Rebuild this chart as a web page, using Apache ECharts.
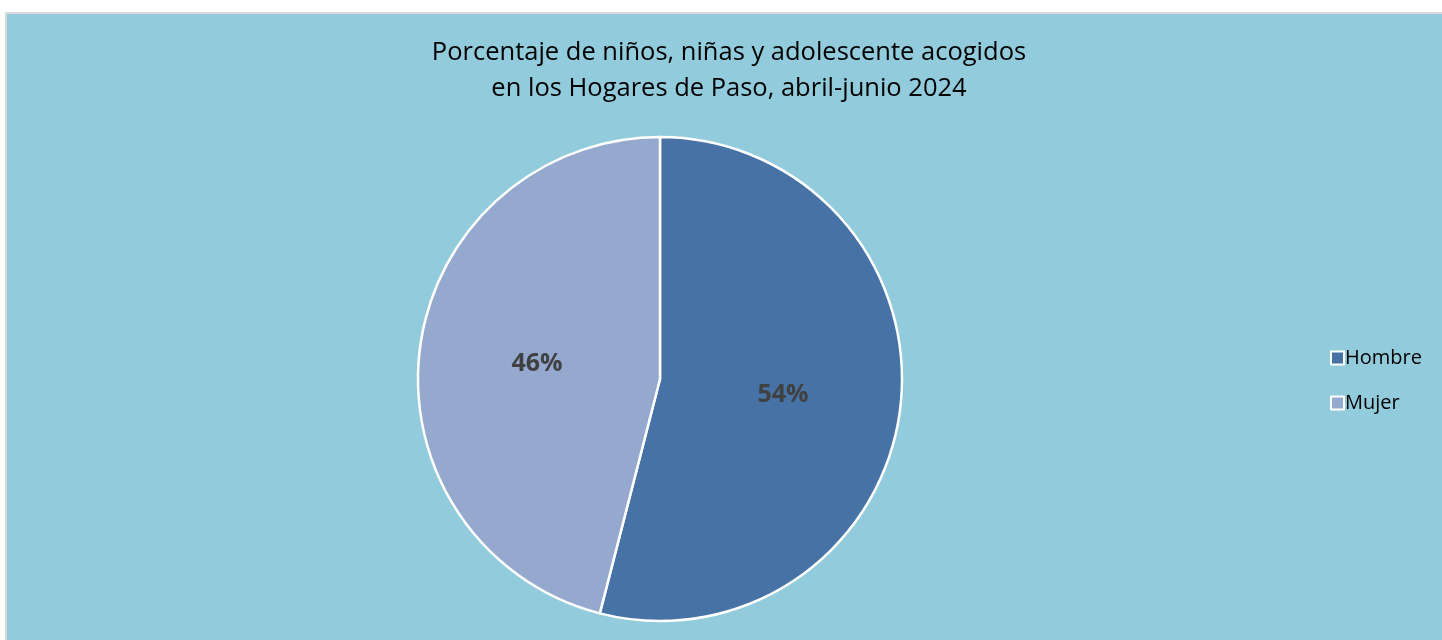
<!DOCTYPE html>
<html>
<head>
<meta charset="utf-8">
<script src="https://cdn.jsdelivr.net/npm/echarts@6/dist/echarts.min.js"></script>
<style>
  html, body { margin: 0; padding: 0; background: #ffffff; }
  #panel {
    position: absolute; left: 5px; top: 12px; width: 1437px; height: 628px;
    background: #92cbdc; border-left: 2px solid #d9d9d9; border-top: 2px solid #d9d9d9;
    box-sizing: border-box;
  }
  #chart { position: absolute; left: 0; top: 0; width: 1442px; height: 640px; }
</style>
</head>
<body>
<div id="panel"></div>
<div id="chart"></div>
<script>
// datos del gráfico
const categorias = ["Hombre", "Mujer"];
const porcentajes = [54, 46];
const colores = ["#4672a6", "#95a9cf"];

const chart = echarts.init(document.getElementById("chart"));

const option = {
  backgroundColor: "transparent",
  title: {
    text: "Porcentaje de niños, niñas y adolescente acogidos\nen los Hogares de Paso, abril-junio 2024",
    left: 724,
    top: 30,
    textAlign: "center",
    textStyle: {
      fontFamily: "Open Sans",
      fontSize: 25.5,
      fontWeight: "normal",
      color: "#000000",
      lineHeight: 36
    }
  },
  legend: {
    orient: "vertical",
    left: 1325,
    top: 343,
    itemGap: 25,
    itemWidth: 13,
    itemHeight: 13,
    icon: "rect",
    data: categorias,
    itemStyle: { borderColor: "#ffffff", borderWidth: 2 },
    textStyle: {
      fontFamily: "Open Sans",
      fontSize: 20,
      color: "#000000",
      padding: [0, 0, 0, -4]
    }
  },
  series: [
    {
      type: "pie",
      center: [660, 379],
      radius: [0, 242],
      startAngle: 90,
      clockwise: true,
      animation: false,
      itemStyle: {
        borderColor: "#ffffff",
        borderWidth: 2.5
      },
      label: {
        show: true,
        position: "inside",
        formatter: "{d}%",
        fontFamily: "Open Sans",
        fontSize: 25,
        fontWeight: "bold",
        color: "#404040"
      },
      labelLine: { show: false },
      emphasis: { disabled: true },
      data: categorias.map((c, i) => ({
        name: c,
        value: porcentajes[i],
        itemStyle: { color: colores[i] }
      }))
    }
  ]
};

chart.setOption(option);
</script>
</body>
</html>
